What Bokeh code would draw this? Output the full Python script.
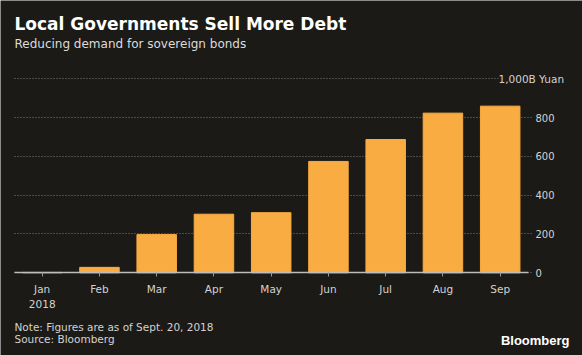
from bokeh.plotting import figure
from bokeh.models import (Range1d, FixedTicker, Label, ColumnDataSource,
                          LinearAxis, Grid)
from bokeh.embed import file_html
from bokeh.resources import INLINE

# ---- data ----
months = ["Jan", "Feb", "Mar", "Apr", "May", "Jun", "Jul", "Aug", "Sep"]
issuance = [2, 28, 197, 302, 310, 574, 687, 823, 859]
y_ticks = [0, 200, 400, 600, 800, 1000]
y_tick_labels = ["0", "200", "400", "600", "800", ""]
unit_label = "1,000B Yuan"
year_label = "2018"
title_text = "Local Governments Sell More Debt"
subtitle_text = "Reducing demand for sovereign bonds"
note_text = "Note: Figures are as of Sept. 20, 2018"
source_text = "Source: Bloomberg"
brand_text = "Bloomberg"

# ---- style ----
BG = "#1c1a17"
BAR = "#f8ac42"
TXT = "#d2d2d2"
FONT = "DejaVu Sans"
W, H = 582, 355

month_pos = list(range(len(months)))

p = figure(
    x_range=Range1d(-0.7284, 9.4376),
    y_range=Range1d(-426.3, 1403.6),
    width=W, height=H,
    output_backend="svg", toolbar_location=None,
    x_axis_type=None, y_axis_type=None,
    min_border=0,
    background_fill_color=BG, border_fill_color=BG,
)
p.outline_line_color = None

# grid (behind bars)
grid = Grid(dimension=1, ticker=FixedTicker(ticks=y_ticks),
            cross_bounds=(-0.4838, 8.55),
            grid_line_color="#7d7d7d", grid_line_dash="1 2",
            grid_line_width=1)
p.add_layout(grid)

src = ColumnDataSource(dict(x=month_pos, value=issuance))
p.vbar(x="x", top="value", width=0.69, source=src,
       fill_color=BAR, line_color=BAR)

# x axis at value 0
xa = LinearAxis(fixed_location=0, bounds=(-0.4838, 8.4943),
                ticker=FixedTicker(ticks=month_pos),
                major_label_overrides={i: m for i, m in zip(month_pos, months)})
xa.axis_line_color = "#bdbdbd"
xa.axis_line_width = 1.5
xa.major_tick_line_color = "#9a9a9a"
xa.major_tick_out = 4
xa.major_tick_in = 0
xa.minor_tick_line_color = None
xa.major_label_text_color = TXT
xa.major_label_text_font = FONT
xa.major_label_text_font_size = "10.5px"
xa.major_label_standoff = 6
p.add_layout(xa, "below")

# y axis on the right edge of the bar area
ya = LinearAxis(fixed_location=8.4943, ticker=FixedTicker(ticks=y_ticks),
                major_label_overrides={t: l for t, l in zip(y_ticks, y_tick_labels)})
ya.axis_line_color = None
ya.major_tick_line_color = None
ya.minor_tick_line_color = None
ya.major_tick_out = 0
ya.major_tick_in = 0
ya.major_label_standoff = 7
ya.major_label_text_color = TXT
ya.major_label_text_font = FONT
ya.major_label_text_font_size = "10px"
p.add_layout(ya, "right")

# unit label at the top gridline
p.add_layout(Label(x=498, y=y_ticks[-1], x_units="screen", y_units="data",
                   text=unit_label, text_color=TXT, text_font=FONT,
                   text_font_size="10.5px", text_baseline="middle",
                   background_fill_color=BG))
# year under first month
p.add_layout(Label(x=month_pos[0], y=51.6, x_units="data", y_units="screen",
                   text=year_label, text_color=TXT, text_font=FONT,
                   text_font_size="10.5px", text_align="center",
                   text_baseline="middle"))

# titles and footnotes
p.add_layout(Label(x=14, y=331.3, x_units="screen", y_units="screen",
                   text=title_text, text_color="white", text_font=FONT,
                   text_font_size="17px", text_font_style="bold",
                   text_baseline="middle"))
p.add_layout(Label(x=14, y=311.5, x_units="screen", y_units="screen",
                   text=subtitle_text, text_color="#dcdcdc", text_font=FONT,
                   text_font_size="12px", text_baseline="middle"))
p.add_layout(Label(x=14, y=28.8, x_units="screen", y_units="screen",
                   text=note_text, text_color=TXT, text_font=FONT,
                   text_font_size="10.5px", text_baseline="middle"))
p.add_layout(Label(x=14, y=16.7, x_units="screen", y_units="screen",
                   text=source_text, text_color=TXT, text_font=FONT,
                   text_font_size="10.5px", text_baseline="middle"))
p.add_layout(Label(x=569, y=15, x_units="screen", y_units="screen",
                   text=brand_text, text_color="white",
                   text_font="Liberation Sans",
                   text_font_size="13px", text_font_style="bold",
                   text_align="right", text_baseline="middle"))

open("out.html", "w").write(file_html(p, INLINE))
